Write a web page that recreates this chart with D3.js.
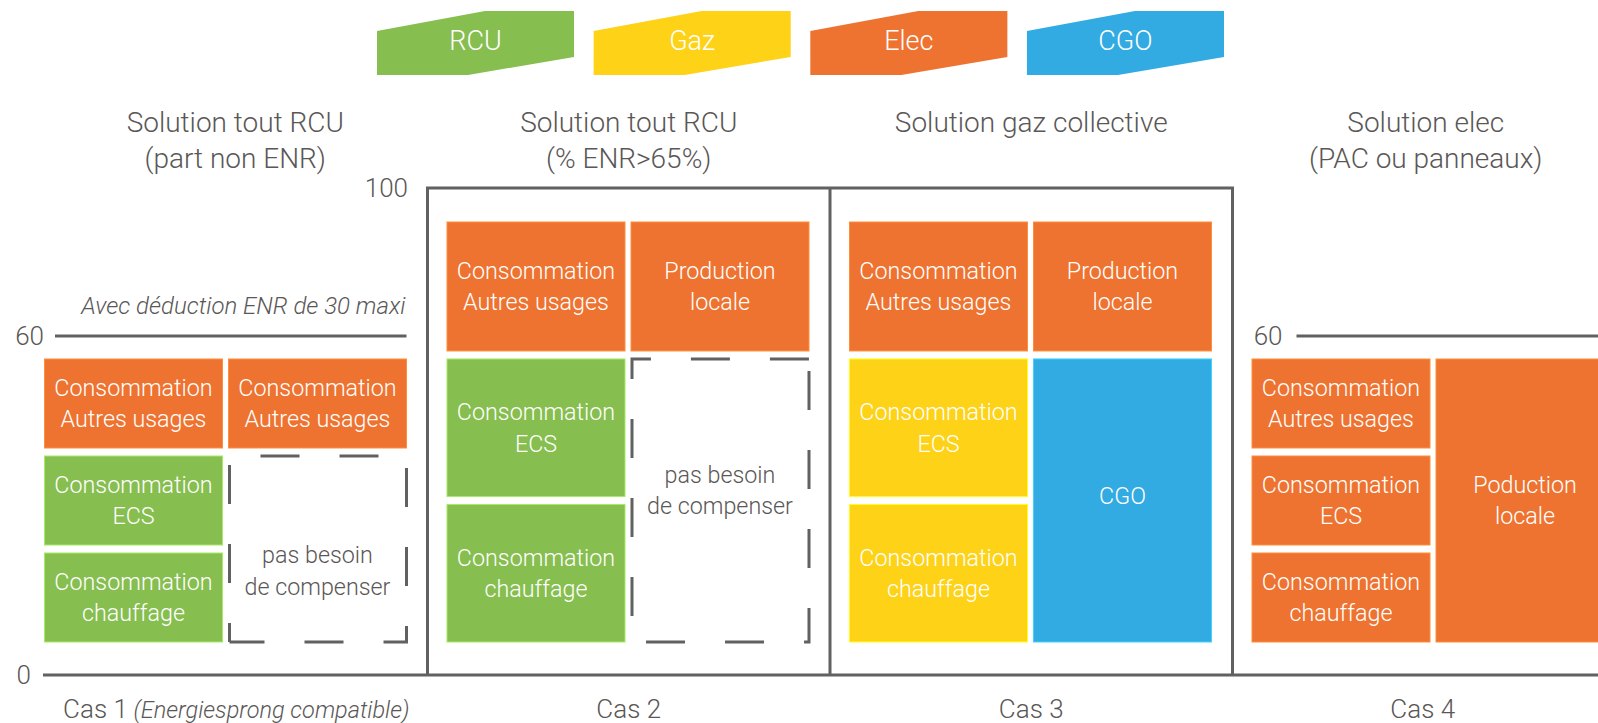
<!DOCTYPE html>
<html><head><meta charset="utf-8">
<script src="https://cdn.jsdelivr.net/npm/d3@7/dist/d3.min.js"></script>
<style>
html,body{margin:0;padding:0;background:#fff;}
svg{display:block;font-family:Roboto,"Open Sans",sans-serif;font-weight:300;}
</style></head>
<body>
<svg id="chart" width="1598" height="723"></svg>
<script>
// ---------- DATA ----------
const legendSeries = ["RCU", "Gaz", "Elec", "CGO"];
const legendColors = ["#86BE4F", "#FDD217", "#EE7330", "#31ABE1"];

const cases = ["Cas 1", "Cas 2", "Cas 3", "Cas 4"];
const caseNotes = ["(Energiesprong compatible)", "", "", ""];
const titleLine1 = ["Solution tout RCU", "Solution tout RCU", "Solution gaz collective", "Solution elec"];
const titleLine2 = ["(part non ENR)", "(% ENR>65%)", "", "(PAC ou panneaux)"];
const caseMax = [60, 100, 100, 60];

// consumption column (bottom -> top)
const consLabels = ["Consommation\nchauffage", "Consommation\nECS", "Consommation\nAutres usages"];
const consValues = [[20, 20, 20], [34, 34, 32], [34, 34, 32], [20, 20, 20]];
const consEnergy = [["RCU", "RCU", "Elec"], ["RCU", "RCU", "Elec"], ["Gaz", "Gaz", "Elec"], ["Elec", "Elec", "Elec"]];

// compensation column (bottom -> top); null energy = dashed "no need"
const compLabels = [["pas besoin\nde compenser", "Consommation\nAutres usages"],
                    ["pas besoin\nde compenser", "Production\nlocale"],
                    ["CGO", "Production\nlocale"],
                    ["Poduction\nlocale"]];
const compValues = [[40, 20], [68, 32], [68, 32], [60]];
const compEnergy = [[null, "Elec"], [null, "Elec"], ["CGO", "Elec"], ["Elec"]];

const axisTicks = [0, 60, 100];
const refNote = "Avec déduction ENR de 30 maxi";

// ---------- DRAW ----------
const svg = d3.select("#chart");
const GRAY = "#5a5756", LINE = "#636160";
const color = d3.scaleOrdinal().domain(legendSeries).range(legendColors);

// Legend
const lx = d3.scaleBand().domain(legendSeries).range([377, 1224]).paddingInner(0.0905);
const lw = lx.bandwidth(), lh = 64, ltop = 11;
const lg = svg.append("g");
legendSeries.forEach(s => {
  const x = lx(s);
  const pts = [[0,20],[108,0],[lw,0],[lw,46],[91,lh],[0,lh]].map(p => [x + p[0], ltop + p[1]]);
  lg.append("path").attr("d", d3.line()(pts) + "Z").attr("fill", color(s));
  lg.append("text").attr("x", x + lw / 2).attr("y", 50).attr("text-anchor", "middle")
    .attr("fill", "#fff").attr("font-size", 27).text(s);
});

// Scales
const xPanel = d3.scaleBand().domain(cases).range([25, 1635]);
const pw = xPanel.bandwidth();
const col = d3.scaleBand().domain([0, 1]).range([0, 362]).paddingInner(6 / 184);
const yAxis = d3.scaleLinear().domain(axisTicks).range([675, 336, 188]);
const yBlock = {
  60: d3.scaleLinear().domain([0, 60]).range([646, 355]),
  100: d3.scaleLinear().domain([0, 100]).range([646, 218])
};

// Frame for Cas 2 & 3
const fx0 = xPanel("Cas 2"), fx1 = xPanel("Cas 3") + pw, fy = yAxis(100), by = yAxis(0);
const fr = svg.append("g").attr("stroke", LINE).attr("stroke-width", 3).attr("fill", "none");
fr.append("path").attr("d", `M${fx0},${by}V${fy}H${fx1}V${by}`);
fr.append("line").attr("x1", xPanel("Cas 3")).attr("x2", xPanel("Cas 3")).attr("y1", fy).attr("y2", by);
// baseline
svg.append("line").attr("x1", 43).attr("x2", 1598).attr("y1", by).attr("y2", by)
  .attr("stroke", LINE).attr("stroke-width", 3);

// Tick labels
const tickTxt = (x, v) => svg.append("text").attr("x", x).attr("y", yAxis(v)).attr("dy", "0.35em")
  .attr("text-anchor", "end").attr("fill", GRAY).attr("font-size", 26).text(v);
tickTxt(31, 0);
tickTxt(408, 100);
const p1 = xPanel("Cas 1"), p4 = xPanel("Cas 4");
tickTxt(p1 + 19, 60);
tickTxt(p4 + 50, 60);
svg.append("line").attr("x1", p1 + 30).attr("x2", p1 + 19.5 + 362).attr("y1", yAxis(60)).attr("y2", yAxis(60))
  .attr("stroke", LINE).attr("stroke-width", 3);
svg.append("line").attr("x1", p4 + 64).attr("x2", 1598).attr("y1", yAxis(60)).attr("y2", yAxis(60))
  .attr("stroke", LINE).attr("stroke-width", 3);
svg.append("text").attr("x", p1 + 19.5 + 361).attr("y", 314).attr("text-anchor", "end")
  .attr("font-style", "italic").attr("font-size", 24).attr("fill", GRAY).text(refNote);

// Titles and case labels
const titleDx = [9, 0, 0, -8], casDx = [10, 0, 0, -11];
cases.forEach((c, i) => {
  const cx = xPanel(c) + pw / 2;
  svg.append("text").attr("x", cx + titleDx[i]).attr("y", 132).attr("text-anchor", "middle")
    .attr("fill", GRAY).attr("font-size", 28).text(titleLine1[i]);
  if (titleLine2[i]) svg.append("text").attr("x", cx + titleDx[i]).attr("y", 168).attr("text-anchor", "middle")
    .attr("fill", GRAY).attr("font-size", 28).text(titleLine2[i]);
  const t = svg.append("text").attr("x", cx + casDx[i]).attr("y", 718).attr("text-anchor", "middle")
    .attr("fill", GRAY).attr("font-size", 26);
  t.append("tspan").text(c);
  if (caseNotes[i]) t.append("tspan").attr("font-style", "italic").attr("font-size", 23.5).text(" " + caseNotes[i]);
});

// Blocks
function label(g, text, cx, cy, fill) {
  const lines = text.split("\n");
  lines.forEach((ln, k) => {
    g.append("text").attr("x", cx).attr("y", cy + (k - (lines.length - 1) / 2) * 31.5 + 0.35 * 23)
      .attr("text-anchor", "middle").attr("fill", fill).attr("font-size", 23.3).text(ln);
  });
}
const dashDy = [22, -10, 0, 0];
const bg = svg.append("g");
cases.forEach((c, i) => {
  const y = yBlock[caseMax[i]];
  const columns = [
    {labels: consLabels, values: consValues[i], energy: consEnergy[i]},
    {labels: compLabels[i], values: compValues[i], energy: compEnergy[i]}
  ];
  columns.forEach((cl, j) => {
    const x = xPanel(c) + 19.5 + col(j), w = col.bandwidth();
    let cum = 0;
    cl.values.forEach((v, k) => {
      const yb = y(cum), yt = y(cum + v);
      cum += v;
      const top = yt + 4, bot = yb - 4, h = bot - top;
      const e = cl.energy[k];
      if (e) {
        bg.append("rect").attr("x", x).attr("y", top).attr("width", w).attr("height", h)
          .attr("fill", color(e)).attr("stroke", d3.color(color(e)).brighter(0.6)).attr("stroke-width", 1);
        label(bg, cl.labels[k], x + w / 2, (top + bot) / 2 + (e === "CGO" ? -5 : 0), "#fff");
      } else {
        const x0 = x + 1, x1 = x + w, y0 = top, y1 = bot;
        const d = i === 0
          ? `M${x0},${y1}V${y0}H${x1}V${y1}H${x0}`
          : `M${x1},${y0}V${y1}H${x0}V${y0}H${x1}`;
        bg.append("path").attr("d", d).attr("fill", "none").attr("stroke", LINE).attr("stroke-width", 3)
          .attr("stroke-dasharray", "39 40").attr("stroke-dashoffset", i === 0 ? 20 : 67);
        label(bg, cl.labels[k], x + w / 2, (top + bot) / 2 + dashDy[i], GRAY);
      }
    });
  });
});
</script>
</body></html>
